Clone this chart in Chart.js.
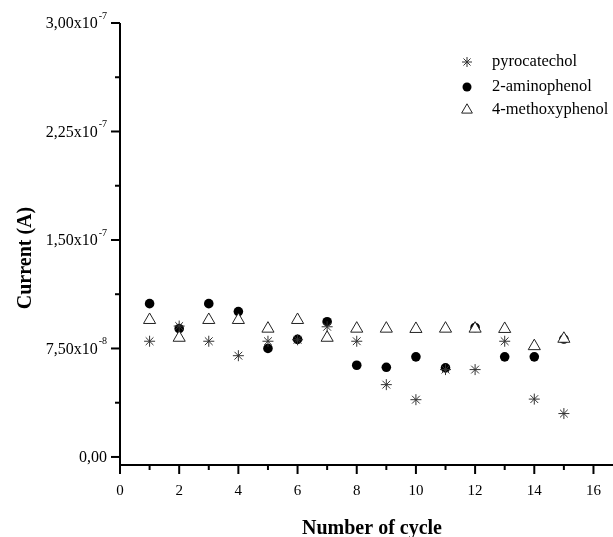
<!DOCTYPE html>
<html>
<head>
<meta charset="utf-8">
<script src="https://cdn.jsdelivr.net/npm/chart.js@4/dist/chart.umd.min.js"></script>
<style>
  html, body { margin: 0; padding: 0; background: #fff; }
  canvas { display: block; }
</style>
</head>
<body>
<canvas id="chart" width="613" height="537"></canvas>
<script>
// ── Data ───────────────────────────────────────────────────────────────
const cycles        = [1, 2, 3, 4, 5, 6, 7, 8, 9, 10, 11, 12, 13, 14, 15];
const pyrocatechol  = [8.0e-8, 9.05e-8, 8.0e-8, 7.0e-8, 8.0e-8, 8.1e-8, 9.0e-8, 8.0e-8, 5.0e-8, 3.96e-8, 6.04e-8, 6.04e-8, 8.0e-8, 4.0e-8, 3.0e-8];
const aminophenol   = [10.6e-8, 8.87e-8, 10.6e-8, 10.05e-8, 7.5e-8, 8.13e-8, 9.35e-8, 6.34e-8, 6.2e-8, 6.92e-8, 6.16e-8, 8.95e-8, 6.92e-8, 6.92e-8, 8.15e-8];
const methoxyphenol = [9.47e-8, 8.24e-8, 9.47e-8, 9.47e-8, 8.87e-8, 9.47e-8, 8.24e-8, 8.87e-8, 8.87e-8, 8.85e-8, 8.87e-8, 8.87e-8, 8.85e-8, 7.66e-8, 8.17e-8];

const seriesNames = ['pyrocatechol', '2-aminophenol', '4-methoxyphenol'];

// tick labels: mantissa + exponent (Origin style)
const yTicks      = [0, 7.5e-8, 1.5e-7, 2.25e-7, 3.0e-7];
const yTickText   = ['0,00', '7,50x10', '1,50x10', '2,25x10', '3,00x10'];
const yTickExp    = ['', '-8', '-7', '-7', '-7'];
const xTicks      = [0, 2, 4, 6, 8, 10, 12, 14, 16];

const SERIF = '"Liberation Serif", "Times New Roman", serif';

const pts = vals => cycles.map((c, i) => ({ x: c, y: vals[i] }));

// ── Axes (Origin look) ─────────────────────────────────────────────────
const originAxes = {
  id: 'originAxes',
  afterDraw(chart) {
    const { ctx, chartArea: a, scales: { x, y } } = chart;
    ctx.save();
    ctx.strokeStyle = '#000';
    ctx.fillStyle = '#000';
    ctx.lineWidth = 2;

    // axis lines
    ctx.beginPath();
    ctx.moveTo(a.left, a.top);
    ctx.lineTo(a.left, a.bottom + 1);
    ctx.moveTo(a.left - 1, a.bottom);
    ctx.lineTo(a.right, a.bottom);
    ctx.stroke();

    // y ticks + labels
    ctx.textBaseline = 'middle';
    yTicks.forEach((v, i) => {
      const py = y.getPixelForValue(v);
      ctx.beginPath();
      ctx.moveTo(a.left - 9, py);
      ctx.lineTo(a.left, py);
      ctx.stroke();
      if (i < yTicks.length - 1) {
        const pm = y.getPixelForValue((v + yTicks[i + 1]) / 2);
        ctx.beginPath();
        ctx.moveTo(a.left - 5, pm);
        ctx.lineTo(a.left, pm);
        ctx.stroke();
      }
      const right = a.left - 13;
      ctx.font = '10px ' + SERIF;
      const expW = yTickExp[i] ? ctx.measureText(yTickExp[i]).width + 1 : 0;
      if (yTickExp[i]) {
        ctx.textAlign = 'right';
        ctx.fillText(yTickExp[i], right, py - 7);
      }
      ctx.font = '16px ' + SERIF;
      ctx.textAlign = 'right';
      ctx.fillText(yTickText[i], right - expW, py + 1);
    });

    // x ticks + labels
    ctx.textAlign = 'center';
    ctx.textBaseline = 'top';
    ctx.font = '15px ' + SERIF;
    xTicks.forEach(v => {
      const px = x.getPixelForValue(v);
      ctx.beginPath();
      ctx.moveTo(px, a.bottom);
      ctx.lineTo(px, a.bottom + 9);
      ctx.stroke();
      ctx.fillText(String(v), px, a.bottom + 19);
      const pm = x.getPixelForValue(v + 1);
      if (pm < a.right) {
        ctx.beginPath();
        ctx.moveTo(pm, a.bottom);
        ctx.lineTo(pm, a.bottom + 5);
        ctx.stroke();
      }
    });

    // axis titles
    ctx.font = 'bold 20px ' + SERIF;
    ctx.textBaseline = 'alphabetic';
    ctx.fillText('Number of cycle', 372, 534);
    ctx.save();
    ctx.translate(31, 258);
    ctx.rotate(-Math.PI / 2);
    ctx.fillText('Current (A)', 0, 0);
    ctx.restore();

    // legend (inside plot, top right)
    const rows = [62, 87, 110];
    chart.data.datasets.forEach((ds, i) => {
      ctx.fillStyle = ds.backgroundColor;
      ctx.strokeStyle = ds.borderColor;
      ctx.lineWidth = 1;
      if (ds.pointStyle === 'circle') {
        ctx.beginPath();
        ctx.arc(467, rows[i], 4.5, 0, Math.PI * 2);
        ctx.fill();
      } else {
        Chart.helpers.drawPoint(ctx, {
          pointStyle: ds.pointStyle,
          radius: ds.pointStyle === 'star' ? 5 : 6.2,
          borderWidth: 1
        }, 467, rows[i]);
      }
      ctx.fillStyle = '#000';
      ctx.font = '16.5px ' + SERIF;
      ctx.textAlign = 'left';
      ctx.textBaseline = 'middle';
      ctx.fillText(ds.label, 492, rows[i]);
    });
    ctx.restore();
  }
};

// ── Chart ──────────────────────────────────────────────────────────────
new Chart(document.getElementById('chart').getContext('2d'), {
  type: 'scatter',
  data: {
    datasets: [
      { label: seriesNames[0], data: pts(pyrocatechol), pointStyle: 'star',
        pointRadius: 5.5, pointBorderWidth: 1, borderColor: '#333', backgroundColor: '#333', order: 1 },
      { label: seriesNames[1], data: pts(aminophenol), pointStyle: 'circle',
        pointRadius: 4.8, pointBorderWidth: 0, borderColor: '#000', backgroundColor: '#000', order: 3 },
      { label: seriesNames[2], data: pts(methoxyphenol), pointStyle: 'triangle',
        pointRadius: 7, pointBorderWidth: 1, borderColor: '#222', backgroundColor: '#fff', order: 2 }
    ]
  },
  options: {
    responsive: false,
    animation: false,
    devicePixelRatio: 1,
    layout: { autoPadding: false, padding: { left: 120, top: 23, right: 0, bottom: 72 } },
    scales: {
      x: { type: 'linear', display: false, min: 0, max: 16.66 },
      y: { type: 'linear', display: false, min: -5.56e-9, max: 3.0e-7 }
    },
    plugins: { legend: { display: false }, tooltip: { enabled: false } }
  },
  plugins: [originAxes]
});
</script>
</body>
</html>
